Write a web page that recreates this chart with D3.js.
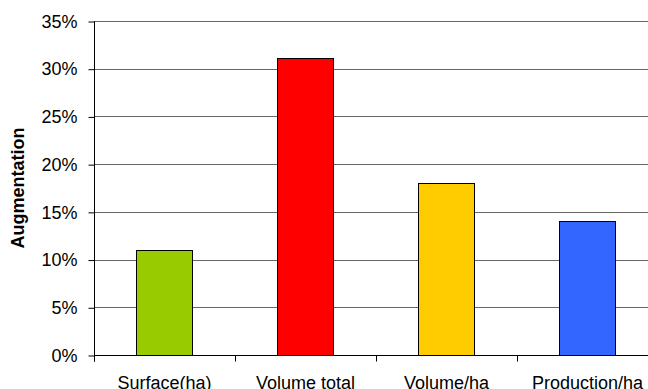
<!DOCTYPE html>
<html>
<head>
<meta charset="utf-8">
<script src="https://cdn.jsdelivr.net/npm/d3@7"></script>
<style>
  html, body { margin: 0; padding: 0; background: #fff; }
  svg { display: block; font-family: "Liberation Sans", Arial, sans-serif; }
</style>
</head>
<body>
<svg id="chart" width="648" height="389"></svg>
<script>
// Augmentation par indicateur (barres colorées)
const categories = ['Surface(ha)', 'Volume total', 'Volume/ha', 'Production/ha'];
const values = [0.11, 0.311, 0.18, 0.14];
const barColors = ['#99cc00', '#ff0000', '#ffcc00', '#3366ff'];
const yTicks = [0, 0.05, 0.10, 0.15, 0.20, 0.25, 0.30, 0.35];

(function () {
	const svg = d3.select('#chart');
	const plot = { left: 94, right: 658, top: 21, bottom: 355 };

	const x = d3.scaleBand().domain(categories).range([plot.left, plot.right])
		.paddingInner(0.6).paddingOuter(0.3);
	const y = d3.scaleLinear().domain([0, 0.35]).range([plot.bottom, plot.top]);

	// Gridlines
	svg.append('g').selectAll('line').data(yTicks.slice(1)).join('line')
		.attr('x1', plot.left).attr('x2', plot.right)
		.attr('y1', d => Math.round(y(d)) + 0.5).attr('y2', d => Math.round(y(d)) + 0.5)
		.attr('stroke', '#666').attr('stroke-width', 1);

	// Bars
	svg.append('g').selectAll('rect').data(categories).join('rect')
		.attr('x', d => Math.round(x(d)) + 0.5)
		.attr('y', (d, i) => Math.round(y(values[i])) + 0.5)
		.attr('width', Math.round(x.bandwidth()))
		.attr('height', (d, i) => Math.round(plot.bottom - y(values[i])))
		.attr('fill', (d, i) => barColors[i])
		.attr('stroke', '#000').attr('stroke-width', 1);

	// Y axis
	svg.append('g')
		.attr('transform', 'translate(' + (plot.left + 0.5) + ',0.5)')
		.call(d3.axisLeft(y).tickValues(yTicks).tickFormat(d3.format('.0%'))
			.tickSize(6).tickPadding(11).tickSizeOuter(0))
		.call(ax => ax.select('.domain').attr('d', 'M0,' + plot.top + 'V' + (plot.bottom + 6)).attr('stroke', '#000'))
		.call(ax => ax.selectAll('line').attr('stroke', '#000'))
		.call(ax => ax.selectAll('text').attr('font-size', 18).attr('fill', '#000')
			.attr('font-family', '"Liberation Sans", Arial, sans-serif'));

	// X axis: labels centred on bars, ticks at category boundaries
	const xAxis = svg.append('g').attr('transform', 'translate(0,' + (plot.bottom + 0.5) + ')');
	xAxis.append('line').attr('x1', plot.left).attr('x2', plot.right).attr('stroke', '#000');
	xAxis.selectAll('line.tick').data(d3.range(categories.length + 1)).join('line')
		.attr('class', 'tick')
		.attr('x1', i => Math.round(plot.left + i * x.step()) + 0.5)
		.attr('x2', i => Math.round(plot.left + i * x.step()) + 0.5)
		.attr('y1', 0).attr('y2', 6).attr('stroke', '#000');
	xAxis.selectAll('text').data(categories).join('text')
		.attr('x', d => x(d) + x.bandwidth() / 2)
		.attr('y', 33)
		.attr('text-anchor', 'middle').attr('font-size', 18).attr('fill', '#000')
		.text(d => d);

	// Y axis title
	svg.append('text')
		.attr('transform', 'translate(24,' + ((plot.top + plot.bottom) / 2) + ') rotate(-90)')
		.attr('text-anchor', 'middle').attr('font-size', 18).attr('font-weight', 'bold')
		.attr('fill', '#000')
		.text('Augmentation');
})();
</script>
</body>
</html>
